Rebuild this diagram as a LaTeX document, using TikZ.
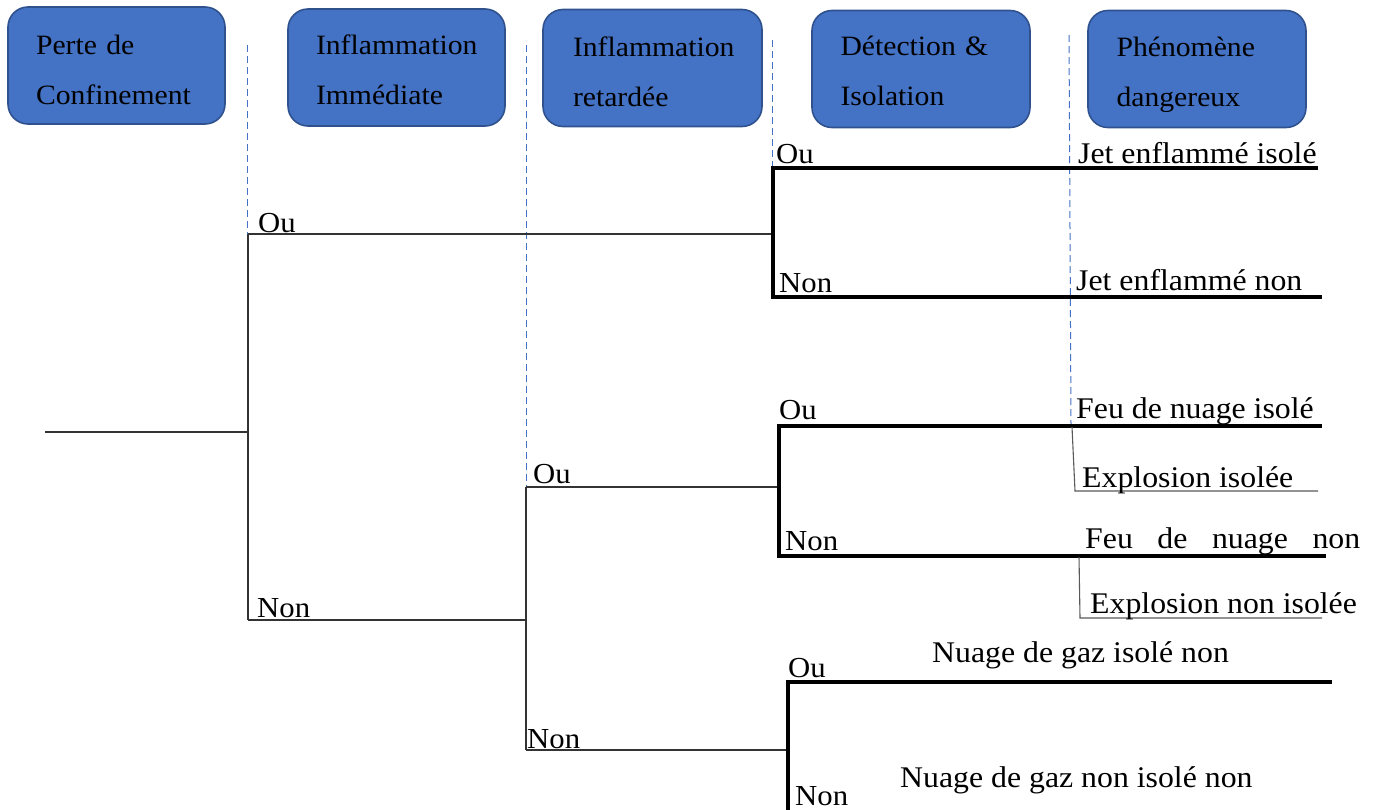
\documentclass[tikz,border=0pt]{standalone}
\usepackage{fontspec}
\setmainfont{Liberation Serif}[FakeStretch=1.06]
\definecolor{boxfill}{HTML}{4472C4}
\definecolor{boxedge}{HTML}{2F528F}
\definecolor{guideblue}{HTML}{4472C4}

\begin{document}
\begin{tikzpicture}[x=1pt, y=-1pt,
    phase/.style={draw=boxedge, fill=boxfill, line width=1.6pt, rounded corners=20pt,
        minimum height=117pt, minimum width=217pt},
    phasetext/.style={text width=161pt, inner sep=0pt, align=left,
        font=\fontsize{28}{50}\selectfont},
    branch/.style={anchor=base west, inner sep=0pt, font=\fontsize{29}{30}\selectfont},
    event/.style={anchor=base west, inner sep=0pt, font=\fontsize{30}{32}\selectfont},
    stem/.style={draw=black!80, line width=1.3pt},
    fork/.style={draw=black, line width=3.5pt, line join=miter},
    underl/.style={draw=black!65, line width=1.1pt},
    guide/.style={draw=guideblue, line width=1pt, dash pattern=on 7pt off 4pt}]
    \useasboundingbox (0,0) rectangle (1375,809);

    % column headers
    \node[phase] (perte) at (116.5,65.5) {};
    \node[phase] (immed) at (396.5,67.5) {};
    \node[phase, minimum width=219pt] (retard) at (652.5,68) {};
    \node[phase, minimum width=218pt] (detect) at (921,69) {};
    \node[phase, minimum width=218pt] (pheno) at (1197,69) {};
    \node[phasetext, yshift=-4pt] at (perte) {Perte de\\Confinement};
    \node[phasetext, yshift=-2pt] at (immed) {Inflammation\\Immédiate};
    \node[phasetext, yshift=-4pt, xshift=1pt] at (retard) {Inflammation\\retardée};
    \node[phasetext, yshift=-2pt] at (detect) {Détection \&\\Isolation};
    \node[phasetext, yshift=-6pt] at (pheno) {Phénomène\\dangereux};

    % column guides
    \draw[guide] (247,45) -- (247,234);
    \draw[guide] (526,45) -- (526,487);
    \draw[guide] (772,40) -- (772,234);
    \draw[guide] (1069,35) -- (1071,426);

    % tree points
    \coordinate (r0) at (45,432);
    \coordinate (j1) at (248,432);
    \coordinate (j1a) at (248,234);
    \coordinate (j1b) at (248,620);
    \coordinate (j2a) at (526,487);
    \coordinate (j2b) at (526,750);
    \coordinate (f1a) at (773,168);
    \coordinate (f1b) at (773,297);
    \coordinate (f2a) at (779,426);
    \coordinate (f2b) at (779,556);
    \coordinate (f3a) at (788,682);
    \coordinate (f3b) at (788,812);
    \coordinate (e1a) at (1318,168);
    \coordinate (e1b) at (1322,297);
    \coordinate (e2a) at (1322,426);
    \coordinate (e2b) at (1326,556);
    \coordinate (e3a) at (1332,682);
    \coordinate (s1a) at (1072,427);
    \coordinate (s1b) at (1075,491);
    \coordinate (s1c) at (1318,491);
    \coordinate (s2a) at (1079,557);
    \coordinate (s2b) at (1080,618);
    \coordinate (s2c) at (1322,618);

    \draw[stem] (r0) -- (j1);
    \draw[stem] (j1a) -- (j1b);
    \draw[stem] (j1a) -- (f1a |- j1a);
    \draw[stem] (j1b) -- (j2a |- j1b);
    \draw[stem] (j2a) -- (j2b);
    \draw[stem] (j2a) -- (f2a |- j2a);
    \draw[stem] (j2b) -- (f3a |- j2b);

    \draw[fork] (e1a) -- (f1a) -- (f1b) -- (e1b);
    \draw[fork] (e2a) -- (f2a) -- (f2b) -- (e2b);
    \draw[fork] (e3a) -- (f3a) -- (f3b);

    \draw[underl] (s1a) -- (s1b) -- (s1c);
    \draw[underl] (s2a) -- (s2b) -- (s2c);

    % branch labels
    \node[branch] (ou1) at (258,232) {Ou};
    \node[branch] (non1) at (257,617) {Non};
    \node[branch] (ou2) at (533,483) {Ou};
    \node[branch] (non2) at (527,748) {Non};
    \node[branch] (ou3) at (776,163) {Ou};
    \node[branch] (non3) at (779,292) {Non};
    \node[branch] (ou4) at (779,419) {Ou};
    \node[branch] (non4) at (785,550) {Non};
    \node[branch] (ou5) at (788,677) {Ou};
    \node[branch] (non5) at (795,805) {Non};

    % outcomes
    \node[event] (jetiso) at (1078,163) {Jet enflammé isolé};
    \node[event] (jetnon) at (1076,290) {Jet enflammé non};
    \node[event] (feuiso) at (1076,418) {Feu de nuage isolé};
    \node[event] (expiso) at (1082,487) {Explosion isolée};
    \node[event] (feunon) at (1085,548) {\makebox[275pt][s]{Feu de nuage non}};
    \node[event] (expnon) at (1090,613) {Explosion non isolée};
    \node[event] (gaziso) at (932,662) {Nuage de gaz isolé non};
    \node[event] (gaznon) at (900,787) {Nuage de gaz non isolé non};
\end{tikzpicture}
\end{document}
